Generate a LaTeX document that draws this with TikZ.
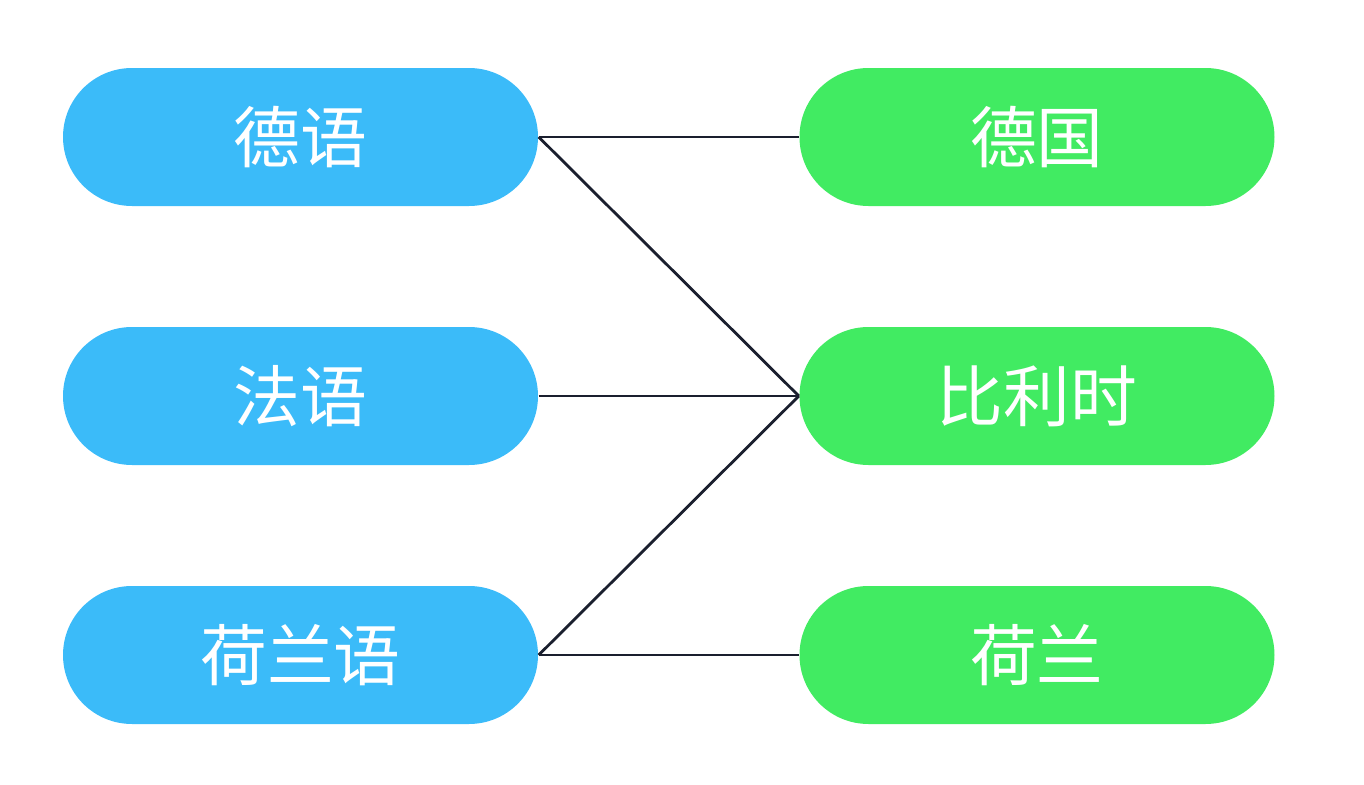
\documentclass[tikz,border=0pt]{standalone}
\usepackage{fontspec}
\newfontfamily\cjk{Noto Sans CJK SC}
\usetikzlibrary{positioning}
\definecolor{langblue}{HTML}{3BBBF9}
\definecolor{landgreen}{HTML}{41EB62}
\definecolor{linkline}{HTML}{1A1F2E}

\begin{document}
\begin{tikzpicture}[
  pill/.style = {rectangle, rounded corners=0.69cm, minimum width=4.75cm, minimum height=1.38cm,
    inner sep=0pt, text=white, font=\cjk\fontsize{19}{22}\selectfont},
  lang/.style = {pill, fill=langblue},
  land/.style = {pill, fill=landgreen},
  link/.style = {draw=linkline, line width=0.8pt}
  ]
	\useasboundingbox (0,0) rectangle (13.64,7.84);

	\node[lang] (de) at (3.005,6.47) {德语};
	\node[lang] (fr) at (3.005,3.88) {法语};
	\node[lang] (nl) at (3.005,1.29) {荷兰语};

	\node[land] (ger) at (10.37,6.47) {德国};
	\node[land] (bel) at (10.37,3.88) {比利时};
	\node[land] (hol) at (10.37,1.29) {荷兰};

	\draw[link] (de.east) -- (ger.west);
	\draw[link] (de.east) -- (bel.west);
	\draw[link] (fr.east) -- (bel.west);
	\draw[link] (nl.east) -- (bel.west);
	\draw[link] (nl.east) -- (hol.west);

\end{tikzpicture}
\end{document}
